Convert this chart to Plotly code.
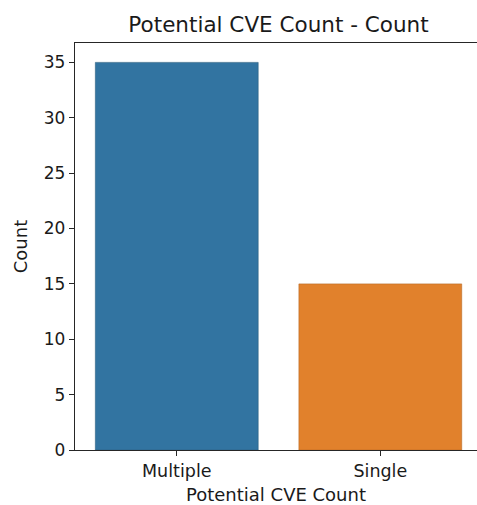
import plotly.graph_objects as go

categories = ["Multiple", "Single"]
counts = [35, 15]
colors = ["#3274a1", "#e1812c"]
edge_colors = ["#2d5f80", "#b86a25"]
y_ticks = [0, 5, 10, 15, 20, 25, 30, 35]

font = "DejaVu Sans"
fig = go.Figure(go.Bar(
    x=categories, y=counts, width=0.8,
    marker=dict(color=colors, line=dict(color=edge_colors, width=0.6)),
))

fig.update_layout(
    width=477, height=505,
    margin=dict(l=75, r=0, t=43, b=55),
    paper_bgcolor="white", plot_bgcolor="white",
    font=dict(family=font, size=17, color="#1a1a1a"),
    title=dict(text="Potential CVE Count - Count", x=278.5/477, xref="container", xanchor="center",
               y=1 - 24/505, yref="container", yanchor="middle",
               font=dict(size=21.5, family=font, color="#1a1a1a")),
    showlegend=False,
    bargap=0.2,
)
fig.update_xaxes(
    type="category", range=[-0.5, 1.475], automargin=False,
    showline=True, linecolor="#262626", linewidth=1.3, mirror=True,
    ticks="outside", ticklen=5, tickcolor="#262626", showgrid=False,
    tickfont=dict(size=17.5),
    title=dict(text="Potential CVE Count", standoff=9, font=dict(size=18)),
)
fig.update_yaxes(
    range=[0, 36.75], tickvals=y_ticks, automargin=False,
    showline=True, linecolor="#262626", linewidth=1.3, mirror=False,
    ticks="outside", ticklen=5, tickcolor="#262626", showgrid=False, zeroline=False,
    tickfont=dict(size=17),
    title=dict(text="Count", standoff=11, font=dict(size=18)),
)
fig.write_html("out.html", config={"displayModeBar": False},
               post_script="document.body.style.margin='0';document.body.style.overflow='hidden';")
